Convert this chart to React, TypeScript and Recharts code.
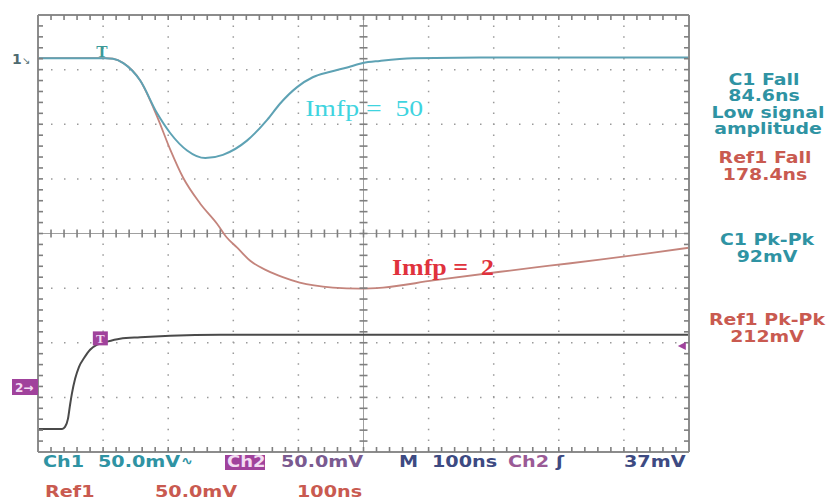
import { ComposedChart, Line, XAxis, YAxis, ReferenceLine, ReferenceDot } from 'recharts'

// time in ns (10 div x 100 ns), voltage in mV (50 mV/div, 8 div)
const c1Time = [0, 103, 115, 131, 157, 183, 203, 229, 257, 284, 321, 352, 372, 398, 422, 449, 475, 499, 525, 576, 679, 1000]
const c1Mv = [160.5, 160.5, 160, 156, 140, 110, 92, 76, 69, 72, 85, 104, 119, 134, 143, 148, 152, 156, 158, 160.5, 161, 161]

const ref1Time = [0, 103, 115, 131, 157, 183, 203, 223, 249, 275, 290, 306, 326, 352, 376, 402, 453, 495, 530, 607, 710, 786, 863, 940, 1000]
const ref1Mv = [160.5, 160.5, 160, 156, 140, 107, 77, 51, 27.5, 9, -3.7, -13, -25, -34, -40, -45, -49.5, -50.5, -49.5, -43, -35, -29.5, -24, -18, -13]

const ch2Time = [0, 37, 41.5, 46, 49, 52, 57, 63, 71, 80, 91, 106, 126, 157, 203, 280, 1000]
const ch2Mv = [-178.9, -178.9, -177, -169.7, -157.8, -146.8, -133, -122, -113.8, -106.4, -101.8, -99, -96.3, -95, -93.6, -92.7, -92.7]

const xDivs = [100, 200, 300, 400, 600, 700, 800, 900]
const yDivs = [-150, -100, -50, 50, 100, 150]
const xMinor = Array.from({ length: 49 }, (_, i) => 20 + i * 20)
const yMinor = Array.from({ length: 39 }, (_, i) => -190 + i * 10)

const c1Data = c1Time.map((t, i) => ({ t, v: c1Mv[i] }))
const ref1Data = ref1Time.map((t, i) => ({ t, v: ref1Mv[i] }))
const ch2Data = ch2Time.map((t, i) => ({ t, v: ch2Mv[i] }))

const TEAL = '#2f93a3'
const RED = '#c95a50'
const PURPLE = '#a0429c'
const NAVY = '#3d4a82'
const TICK = '#7f7f7f'
const NB = '\u00a0'

function Txt({ x, y, fill, size = 16, sx = 1.2, anchor = 'start', children }: any) {
  return (
    <text
      transform={`translate(${x} ${y}) scale(${sx} 1)`}
      fill={fill}
      fontSize={size}
      fontWeight="bold"
      fontFamily="DejaVu Sans"
      textAnchor={anchor}
    >
      {children}
    </text>
  )
}

// small graticule tick drawn at a data point, offsets in pixels
const tickShape = (x0: number, x1: number, y0: number, y1: number) => (p: any) => (
  <path d={`M${p.cx + x0},${p.cy + y0}L${p.cx + x1},${p.cy + y1}`} stroke={TICK} strokeWidth={1.6} fill="none" />
)

const ax = { xAxisId: 'b', yAxisId: 'l' }

export default function App() {
  return (
    <div style={{ position: 'absolute', left: 0, top: 0, width: 827, height: 500, background: '#fff' }}>
      <ComposedChart width={827} height={500} margin={{ top: 15, right: 138, bottom: 48, left: 38 }}>
        <XAxis xAxisId="b" type="number" dataKey="t" domain={[0, 1000]} orientation="bottom" mirror
          tick={false} tickLine={false} axisLine={{ stroke: '#8c8c8c', strokeWidth: 2 }} />
        <XAxis xAxisId="t" type="number" domain={[0, 1000]} orientation="top" mirror
          tick={false} tickLine={false} axisLine={{ stroke: '#8c8c8c', strokeWidth: 2 }} />
        <YAxis yAxisId="l" type="number" domain={[-200, 200]} orientation="left" mirror
          tick={false} tickLine={false} axisLine={{ stroke: '#8c8c8c', strokeWidth: 2 }} />
        <YAxis yAxisId="r" type="number" domain={[-200, 200]} orientation="right" mirror
          tick={false} tickLine={false} axisLine={{ stroke: '#8c8c8c', strokeWidth: 2 }} />

        {/* dotted graticule */}
        {xDivs.map((x) => (
          <ReferenceLine key={'gx' + x} {...ax} x={x} stroke="#9a9a9a" strokeWidth={1.5} strokeDasharray="1.5 9.4" />
        ))}
        {yDivs.map((y) => (
          <ReferenceLine key={'gy' + y} {...ax} y={y} stroke="#9a9a9a" strokeWidth={1.5} strokeDasharray="1.5 11.5" />
        ))}
        <ReferenceLine {...ax} x={500} stroke="#a0a0a0" />
        <ReferenceLine {...ax} y={0} stroke="#a0a0a0" />

        {/* minor ticks on the centre lines and the frame */}
        {xMinor.map((x) => (
          <ReferenceDot key={'cx' + x} {...ax} x={x} y={0} r={0} shape={tickShape(0, 0, -4, 4)} />
        ))}
        {yMinor.map((y) => (
          <ReferenceDot key={'cy' + y} {...ax} x={500} y={y} r={0} shape={tickShape(-4, 4, 0, 0)} />
        ))}
        {xMinor.map((x) => (
          <ReferenceDot key={'tt' + x} {...ax} x={x} y={200} r={0} shape={tickShape(0, 0, 0, 5)} />
        ))}
        {xMinor.map((x) => (
          <ReferenceDot key={'tb' + x} {...ax} x={x} y={-200} r={0} shape={tickShape(0, 0, -5, 0)} />
        ))}
        {yMinor.map((y) => (
          <ReferenceDot key={'tl' + y} {...ax} x={0} y={y} r={0} shape={tickShape(0, 5, 0, 0)} />
        ))}
        {yMinor.map((y) => (
          <ReferenceDot key={'tr' + y} {...ax} x={1000} y={y} r={0} shape={tickShape(-5, 0, 0, 0)} />
        ))}

        <Line {...ax} data={ch2Data} dataKey="v" type="monotone" stroke="#4a4a4a" strokeWidth={2} dot={false} isAnimationActive={false} />
        <Line {...ax} data={ref1Data} dataKey="v" type="monotone" stroke="#c4847c" strokeWidth={1.8} dot={false} isAnimationActive={false} />
        <Line {...ax} data={c1Data} dataKey="v" type="monotone" stroke="#5ea2b4" strokeWidth={2} dot={false} isAnimationActive={false} />

        <ReferenceDot {...ax} x={98} y={161} r={0} shape={(p: any) => (
          <text x={p.cx} y={p.cy - 1} fill="#3a9a9a" fontSize={17} fontWeight="bold" fontFamily="Liberation Serif" textAnchor="middle">T</text>
        )} />
        <ReferenceDot {...ax} x={95} y={-96} r={0} shape={(p: any) => (
          <g>
            <rect x={p.cx - 7} y={p.cy - 7} width={15} height={14} fill={PURPLE} />
            <text x={p.cx + 0.5} y={p.cy + 5} fill="#f3dcf2" fontSize={13} fontWeight="bold" fontFamily="Liberation Serif" textAnchor="middle">T</text>
          </g>
        )} />
        <ReferenceDot {...ax} x={989} y={-103} r={0} shape={(p: any) => (
          <path d={`M${p.cx - 4},${p.cy} L${p.cx + 4},${p.cy - 4} L${p.cx + 4},${p.cy + 4} Z`} fill={PURPLE} />
        )} />
        <ReferenceDot {...ax} x={501} y={115} r={0} shape={(p: any) => (
          <text x={p.cx} y={p.cy + 8} fill="#3fd4df" fontSize={23} fontFamily="Liberation Serif" textAnchor="middle"
            textLength={118} lengthAdjust="spacingAndGlyphs">{`Imfp =${NB}${NB}50`}</text>
        )} />
        <ReferenceDot {...ax} x={622} y={-32} r={0} shape={(p: any) => (
          <text x={p.cx} y={p.cy + 7} fill="#e0323c" fontSize={23} fontWeight="bold" fontFamily="Liberation Serif" textAnchor="middle"
            textLength={102} lengthAdjust="spacingAndGlyphs">{`Imfp =${NB}${NB}2`}</text>
        )} />
      </ComposedChart>

      <svg width={827} height={500} style={{ position: 'absolute', left: 0, top: 0, pointerEvents: 'none' }}>
        {/* channel markers */}
        <text x={12} y={64} fill="#4f6b70" fontSize={14} fontWeight="bold" fontFamily="DejaVu Sans">1</text>
        <text x={22} y={64} fill="#4f6b70" fontSize={10} fontFamily="DejaVu Sans">↘</text>
        <rect x={12} y={379} width={26} height={16} fill={PURPLE} />
        <text x={15} y={392} fill="#f3dcf2" fontSize={12} fontWeight="bold" fontFamily="DejaVu Sans">2→</text>

        {/* measurement readouts */}
        <Txt x={764} y={85} fill={TEAL} size={15} sx={1.26} anchor="middle">C1 Fall</Txt>
        <Txt x={764} y={101} fill={TEAL} size={15} sx={1.26} anchor="middle">84.6ns</Txt>
        <Txt x={768} y={118} fill={TEAL} size={15} sx={1.26} anchor="middle">Low signal</Txt>
        <Txt x={768} y={134} fill={TEAL} size={15} sx={1.26} anchor="middle">amplitude</Txt>
        <Txt x={765} y={163} fill={RED} size={15} sx={1.26} anchor="middle">Ref1 Fall</Txt>
        <Txt x={765} y={180} fill={RED} size={15} sx={1.26} anchor="middle">178.4ns</Txt>
        <Txt x={767} y={245} fill={TEAL} size={15} sx={1.26} anchor="middle">C1 Pk-Pk</Txt>
        <Txt x={767} y={262} fill={TEAL} size={15} sx={1.26} anchor="middle">92mV</Txt>
        <Txt x={767} y={325} fill={RED} size={15} sx={1.26} anchor="middle">Ref1 Pk-Pk</Txt>
        <Txt x={767} y={342} fill={RED} size={15} sx={1.26} anchor="middle">212mV</Txt>

        {/* status line */}
        <Txt x={43} y={467} fill={TEAL}>Ch1</Txt>
        <Txt x={98} y={467} fill={TEAL}>50.0mV</Txt>
        <Txt x={181} y={465} fill={TEAL} size={12}>∿</Txt>
        <rect x={225} y={455} width={40} height={15} fill={PURPLE} />
        <Txt x={227} y={467} fill="#f3dcf2" size={15}>Ch2</Txt>
        <Txt x={281} y={467} fill="#7a5a90">50.0mV</Txt>
        <Txt x={399} y={467} fill={NAVY}>M</Txt>
        <Txt x={432} y={467} fill={NAVY}>100ns</Txt>
        <Txt x={508} y={467} fill="#9a5a96">Ch2</Txt>
        <Txt x={556} y={467} fill={NAVY}>ʃ</Txt>
        <Txt x={624} y={467} fill={NAVY}>37mV</Txt>
        <Txt x={45} y={497} fill={RED}>Ref1</Txt>
        <Txt x={155} y={497} fill={RED}>50.0mV</Txt>
        <Txt x={297} y={497} fill={RED}>100ns</Txt>
      </svg>
    </div>
  )
}
